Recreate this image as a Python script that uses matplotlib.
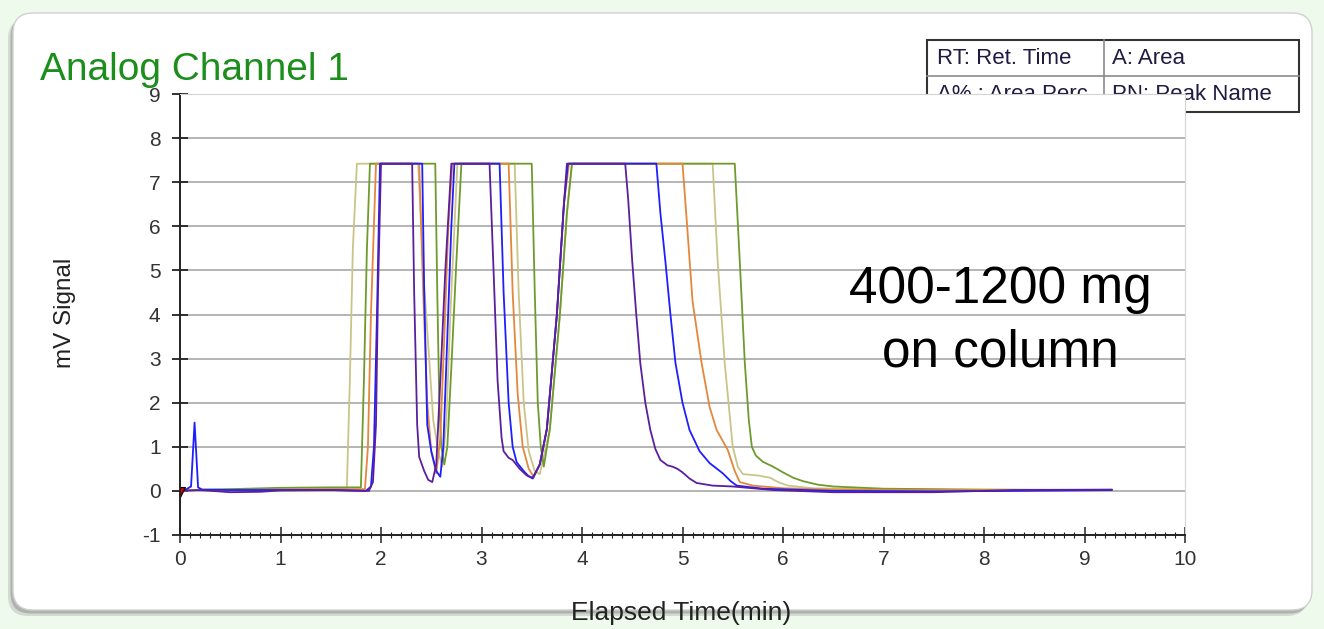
import matplotlib.pyplot as plt
from matplotlib.patches import FancyBboxPatch, Rectangle
from matplotlib.lines import Line2D

plt.rcParams["font.family"] = ["Liberation Sans", "DejaVu Sans"]
plt.rcParams["axes.unicode_minus"] = False

# traces: (time in min, signal in mV), detector saturates at ~7.42
khaki = [(0.0, 0.0), (0.1, 0.02), (0.5, 0.03), (1.0, 0.05), (1.5, 0.05), (1.66, 0.06), (1.69, 2.5),
         (1.72, 5.5), (1.76, 7.42), (2.37, 7.42), (2.42, 5.0), (2.47, 3.3), (2.52, 1.6), (2.57, 0.9),
         (2.61, 0.55), (2.65, 1.6), (2.69, 4.0), (2.76, 7.42), (3.33, 7.42), (3.37, 4.5), (3.42, 2.0),
         (3.47, 0.9), (3.53, 0.45), (3.58, 0.38), (3.68, 1.4), (3.78, 4.0), (3.85, 6.3), (3.9, 7.42),
         (5.3, 7.42), (5.35, 5.2), (5.42, 2.9), (5.5, 1.0), (5.55, 0.55), (5.6, 0.38), (5.75, 0.35),
         (5.87, 0.3), (5.95, 0.2), (6.05, 0.12), (6.3, 0.06), (7.0, 0.03), (8.0, 0.02), (9.27, 0.02)]

olive = [(0.0, 0.0), (0.1, 0.02), (0.5, 0.04), (1.0, 0.07), (1.5, 0.08), (1.8, 0.08), (1.83, 2.5),
         (1.86, 5.5), (1.89, 7.42), (2.54, 7.42), (2.56, 4.5), (2.58, 2.0), (2.6, 1.0), (2.63, 0.6),
         (2.66, 1.0), (2.7, 2.8), (2.75, 5.2), (2.8, 7.42), (3.5, 7.42), (3.53, 4.5), (3.56, 2.0),
         (3.59, 1.0), (3.62, 0.55), (3.68, 1.4), (3.78, 4.0), (3.85, 6.3), (3.9, 7.42), (5.52, 7.42),
         (5.57, 5.2), (5.62, 2.9), (5.66, 1.6), (5.69, 1.0), (5.73, 0.8), (5.8, 0.66), (5.9, 0.55),
         (6.0, 0.42), (6.1, 0.3), (6.2, 0.22), (6.35, 0.14), (6.5, 0.1), (7.0, 0.05), (8.0, 0.03),
         (9.27, 0.02)]

orange = [(0.0, 0.0), (0.1, 0.02), (0.5, 0.02), (1.0, 0.03), (1.5, 0.04), (1.84, 0.04), (1.87, 1.0),
          (1.9, 4.0), (1.95, 7.42), (2.38, 7.42), (2.42, 4.5), (2.46, 2.0), (2.5, 0.9), (2.55, 0.4),
          (2.59, 1.2), (2.63, 3.5), (2.67, 6.0), (2.71, 7.42), (3.27, 7.42), (3.31, 4.5), (3.36, 2.2),
          (3.41, 1.0), (3.47, 0.5), (3.52, 0.32), (3.58, 0.6), (3.65, 1.4), (3.75, 4.0), (3.82, 6.5),
          (3.87, 7.42), (5.0, 7.42), (5.04, 6.2), (5.1, 4.3), (5.19, 2.9), (5.27, 1.9), (5.34, 1.38),
          (5.45, 0.93), (5.52, 0.45), (5.57, 0.2), (5.7, 0.12), (6.0, 0.06), (6.5, 0.03), (8.0, 0.02),
          (9.27, 0.02)]

blue = [(0.0, 0.0), (0.05, 0.02), (0.11, 0.1), (0.145, 1.55), (0.18, 0.08), (0.22, 0.03), (0.5, 0.02),
        (1.0, 0.02), (1.5, 0.02), (1.85, 0.0), (1.9, 0.1), (1.93, 1.0), (1.96, 4.0), (1.99, 7.42),
        (2.41, 7.42), (2.43, 4.5), (2.46, 1.5), (2.5, 0.9), (2.55, 0.45), (2.59, 0.32), (2.62, 1.0),
        (2.66, 3.5), (2.7, 6.0), (2.73, 7.42), (3.18, 7.42), (3.22, 4.5), (3.27, 2.0), (3.31, 1.0),
        (3.35, 0.65), (3.42, 0.45), (3.47, 0.33), (3.51, 0.28), (3.58, 0.6), (3.65, 1.4), (3.75, 4.0),
        (3.82, 6.5), (3.86, 7.42), (4.74, 7.42), (4.78, 6.3), (4.83, 5.2), (4.88, 4.0), (4.93, 2.9),
        (5.0, 2.0), (5.07, 1.38), (5.17, 0.9), (5.27, 0.63), (5.4, 0.4), (5.48, 0.22), (5.54, 0.12),
        (5.8, 0.05), (6.5, 0.0), (7.5, -0.01), (8.3, 0.0), (9.27, 0.02)]

purple = [(0.0, 0.0), (0.2, 0.02), (0.5, -0.03), (0.8, -0.02), (1.0, 0.01), (1.5, 0.02), (1.88, 0.0),
          (1.92, 0.2), (1.95, 1.5), (1.97, 4.5), (2.0, 7.42), (2.31, 7.42), (2.33, 4.5), (2.36, 1.5),
          (2.38, 0.77), (2.43, 0.45), (2.47, 0.25), (2.51, 0.2), (2.55, 0.6), (2.59, 2.5), (2.64, 5.0),
          (2.7, 7.42), (3.08, 7.42), (3.12, 5.0), (3.16, 2.5), (3.2, 1.2), (3.22, 0.9), (3.27, 0.75),
          (3.31, 0.7), (3.38, 0.5), (3.45, 0.35), (3.51, 0.3), (3.58, 0.6), (3.65, 1.4), (3.75, 4.0),
          (3.82, 6.5), (3.85, 7.42), (4.43, 7.42), (4.46, 6.6), (4.5, 5.2), (4.54, 4.0), (4.58, 2.9),
          (4.63, 2.0), (4.68, 1.38), (4.73, 0.95), (4.78, 0.7), (4.85, 0.58), (4.9, 0.55), (4.95, 0.5),
          (5.0, 0.42), (5.07, 0.28), (5.14, 0.18), (5.3, 0.12), (5.5, 0.1), (5.9, 0.02), (6.5, -0.03),
          (7.5, -0.03), (8.3, 0.02), (9.27, 0.03)]

traces = [(khaki, "#cbc488"), (olive, "#6f9b2c"), (orange, "#e4873c"), (blue, "#1e1eff"), (purple, "#5a1f9e")]

legend_cells = [["RT: Ret. Time", "A: Area"], ["A% : Area Perc", "PN: Peak Name"]]

fig = plt.figure(figsize=(13.24, 6.29), dpi=100)
fig.patch.set_facecolor("#eefaec")
inch = fig.dpi_scale_trans

# rounded panel with a soft shadow
for dx, dy, col, a in [(-0.05, -0.06, "#a0a0a0", 0.35), (-0.025, -0.035, "#858585", 0.45)]:
    fig.add_artist(FancyBboxPatch((0.13 + dx, 0.19 + dy), 12.99, 5.97,
                                  boxstyle="round,pad=0,rounding_size=0.2",
                                  transform=inch, fc=col, ec="none", alpha=a, zorder=-3))
fig.add_artist(FancyBboxPatch((0.13, 0.19), 12.99, 5.97, boxstyle="round,pad=0,rounding_size=0.2",
                              transform=inch, fc="white", ec="#d0d0d0", lw=1, zorder=-2))

# legend box, partly hidden behind the plot area
fig.add_artist(Rectangle((9.27, 5.17), 3.72, 0.72, transform=inch, fc="white",
                         ec="#333333", lw=1.5, zorder=-1))
fig.add_artist(Line2D([11.04, 11.04], [5.17, 5.89], transform=inch, color="#8a8a8a", lw=1.2, zorder=0))
fig.add_artist(Line2D([9.27, 12.99], [5.53, 5.53], transform=inch, color="#8a8a8a", lw=1.2, zorder=0))
for r, row in enumerate(legend_cells):
    for c, txt in enumerate(row):
        fig.text([9.37, 11.12][c], [5.71, 5.35][r], txt, transform=inch, va="center", ha="left",
                 fontsize=16, color="#221a40", zorder=0)

fig.text(40 / 1324, 1 - 80 / 629, "Analog Channel 1", fontsize=28, color="#1b8e1b", va="baseline")

ax = fig.add_axes([180 / 1324, 94 / 629, 1005 / 1324, 441 / 629])
ax.set_zorder(5)
ax.set_facecolor("white")

for data, col in traces:
    t = [p[0] for p in data]
    s = [p[1] for p in data]
    ax.plot(t, s, color=col, lw=1.3)
ax.plot([0.0], [-0.02], marker="v", ms=7, color="#cc0000", mec="black", mew=0.8)

ax.set_xlim(0, 10)
ax.set_ylim(-1, 9)
ax.set_xticks(range(0, 11))
ax.set_xticks([i / 10 for i in range(101)], minor=True)
ax.set_yticks(range(-1, 10))
ax.yaxis.grid(True, color="#a8a8a8", lw=1.2)
ax.set_axisbelow(True)
ax.spines["top"].set_color("#d4d4d4")
ax.spines["right"].set_color("#d4d4d4")
ax.spines["left"].set_color("#222222")
ax.spines["bottom"].set_color("#222222")
ax.spines["left"].set_linewidth(1.4)
ax.spines["bottom"].set_linewidth(1.4)
ax.tick_params(axis="y", direction="inout", length=12, width=1.3, color="#222222",
               labelsize=15, labelcolor="#333333", pad=8)
ax.tick_params(axis="x", which="major", direction="inout", length=12, width=1.1, color="#222222",
               labelsize=15, labelcolor="#333333", pad=5)
ax.tick_params(axis="x", which="minor", direction="inout", length=5, width=0.8, color="#222222")

ax.text(8.16, 4.56, "400-1200 mg", fontsize=37, ha="center", va="center", color="black")
ax.text(8.16, 3.13, "on column", fontsize=37, ha="center", va="center", color="black")

fig.text(65 / 1324, 1 - 313 / 629, "mV Signal", rotation=90, ha="center", va="center",
         fontsize=17.5, color="#222222")
fig.text(681 / 1324, 1 - 613 / 629, "Elapsed Time(min)", ha="center", va="center", fontsize=19,
         color="#222222")

fig.savefig("out.png", dpi=100, facecolor=fig.get_facecolor())
